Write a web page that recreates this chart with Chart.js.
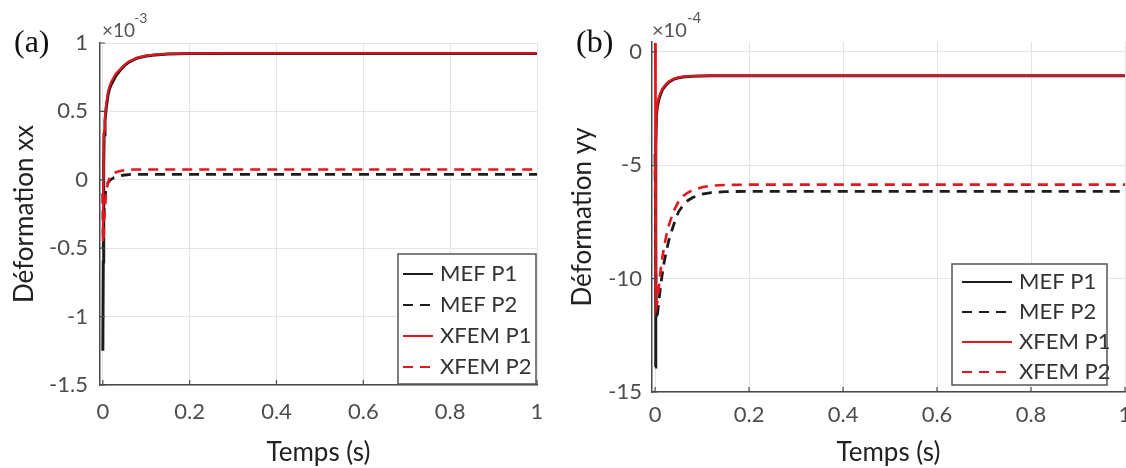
<!DOCTYPE html>
<html>
<head>
<meta charset="utf-8">
<script src="https://cdn.jsdelivr.net/npm/chart.js@4.4.1/dist/chart.umd.min.js"></script>
<style>
  body { margin: 0; background: #fff; width: 1126px; height: 468px; overflow: hidden; position: relative; }
  canvas { position: absolute; top: 0; }
  #chartA { left: 0; }
  #chartB { left: 560px; }
  .panel { position: absolute; font-family: "Liberation Serif", serif; font-size: 32px; color: #111; line-height: 1; }
  .expo { position: absolute; font-family: Lato, sans-serif; color: #555; line-height: 1; }
</style>
</head>
<body>
<canvas id="chartA" width="560" height="468"></canvas>
<canvas id="chartB" width="566" height="468"></canvas>

<div class="panel" style="left:14px; top:25px;">(a)</div>
<div class="panel" style="left:576px; top:25px;">(b)</div>
<div class="expo" style="left:102px; top:20px; font-size:19px;">×10</div>
<div class="expo" style="left:134px; top:11px; font-size:14px;">-3</div>
<div class="expo" style="left:652px; top:19px; font-size:20px;">×10</div>
<div class="expo" style="left:687px; top:10px; font-size:15px;">-4</div>

<script>
// time samples (s), dense near t = 0 where the transients are
var times = [0, 0.001, 0.002, 0.003, 0.005, 0.008, 0.012, 0.016, 0.02, 0.025, 0.03, 0.04,
  0.05, 0.06, 0.07, 0.08, 0.1, 0.12, 0.15, 0.2, 0.3, 0.5, 0.75, 1];

// (a) Déformation xx, x 1e-3
var mefP1xx = [-1.25, -0.6, 0.1, 0.33, 0.43, 0.53, 0.62, 0.67, 0.70, 0.73, 0.76, 0.80,
  0.835, 0.86, 0.877, 0.89, 0.905, 0.913, 0.92, 0.923, 0.924, 0.924, 0.924, 0.924];
var mefP2xx = [-0.1, -0.5, -0.35, -0.2, -0.12, -0.06, -0.02, -0.005, 0.005, 0.015, 0.022, 0.03,
  0.035, 0.038, 0.04, 0.04, 0.04, 0.04, 0.04, 0.04, 0.04, 0.04, 0.04, 0.04];
var xfemP1xx = [-0.45, 0.0, 0.25, 0.36, 0.46, 0.56, 0.645, 0.69, 0.72, 0.75, 0.775, 0.81,
  0.84, 0.865, 0.88, 0.893, 0.908, 0.915, 0.921, 0.924, 0.925, 0.925, 0.925, 0.925];
var xfemP2xx = [-0.1, -0.2, -0.45, -0.3, -0.2, -0.08, -0.02, 0.015, 0.03, 0.045, 0.055, 0.065,
  0.07, 0.073, 0.075, 0.075, 0.075, 0.075, 0.075, 0.075, 0.075, 0.075, 0.075, 0.075];

// (b) Déformation yy, x 1e-4
var mefP1yy = [-13.9, -8, -4, -2.8, -2.4, -2.1, -1.85, -1.65, -1.55, -1.42, -1.32, -1.2,
  -1.14, -1.1, -1.08, -1.07, -1.06, -1.05, -1.05, -1.05, -1.05, -1.05, -1.05, -1.05];
var mefP2yy = [-4.5, -8, -10.5, -11.8, -11.6, -11.0, -10.3, -9.7, -9.2, -8.7, -8.25, -7.6,
  -7.05, -6.75, -6.55, -6.42, -6.27, -6.2, -6.16, -6.15, -6.15, -6.15, -6.15, -6.15];
var xfemP1yy = [0.4, -11, -5, -2.7, -2.3, -2.0, -1.78, -1.6, -1.5, -1.38, -1.29, -1.18,
  -1.12, -1.09, -1.07, -1.06, -1.05, -1.04, -1.04, -1.04, -1.04, -1.04, -1.04, -1.04];
var xfemP2yy = [-5, -7, -9.5, -11.2, -11.0, -10.4, -9.6, -9.0, -8.5, -8.0, -7.6, -7.0,
  -6.6, -6.35, -6.2, -6.1, -5.97, -5.9, -5.87, -5.85, -5.85, -5.85, -5.85, -5.85];

var xTicks = [0, 0.2, 0.4, 0.6, 0.8, 1];
var yTicksA = [-1.5, -1, -0.5, 0, 0.5, 1];
var yTicksB = [-15, -10, -5, 0];

var BLACK = '#1c1c1c';
var RED = '#e3161f';

function points(values) {
  return values.map(function (v, i) { return { x: times[i], y: v }; });
}

// short inward tick marks on the left and bottom axes
var innerTicks = {
  id: 'innerTicks',
  afterDatasetsDraw: function (chart) {
    var ctx = chart.ctx, area = chart.chartArea;
    ctx.save();
    ctx.strokeStyle = '#4a4a4a';
    ctx.lineWidth = 1.2;
    ctx.beginPath();
    chart.scales.x.ticks.forEach(function (t) {
      var px = chart.scales.x.getPixelForValue(t.value);
      ctx.moveTo(px, area.bottom);
      ctx.lineTo(px, area.bottom - 5);
    });
    chart.scales.y.ticks.forEach(function (t) {
      var py = chart.scales.y.getPixelForValue(t.value);
      ctx.moveTo(area.left, py);
      ctx.lineTo(area.left + 5, py);
    });
    ctx.stroke();
    ctx.restore();
  }
};

// legend drawn as a framed box inside the plot, MATLAB style
var boxLegend = {
  id: 'boxLegend',
  afterDraw: function (chart, args, o) {
    var ctx = chart.ctx;
    ctx.save();
    ctx.fillStyle = '#fff';
    ctx.fillRect(o.left, o.top, o.width, o.height);
    ctx.strokeStyle = '#555';
    ctx.lineWidth = 1.5;
    ctx.strokeRect(o.left, o.top, o.width, o.height);
    ctx.font = '22px Lato';
    ctx.textBaseline = 'middle';
    chart.data.datasets.forEach(function (ds, i) {
      var y = o.firstRow + i * o.rowHeight;
      ctx.beginPath();
      ctx.setLineDash(ds.borderDash || []);
      ctx.strokeStyle = ds.borderColor;
      ctx.lineWidth = 2;
      ctx.moveTo(o.lineStart, y);
      ctx.lineTo(o.lineStart + o.lineLength, y);
      ctx.stroke();
      ctx.setLineDash([]);
      ctx.fillStyle = '#333';
      ctx.fillText(ds.label, o.lineStart + o.lineLength + 7, y);
    });
    ctx.restore();
  }
};

function makeChart(id, series, s) {
  var styles = [
    { label: 'MEF P1', color: BLACK, dash: [], width: 3, order: 1 },
    { label: 'MEF P2', color: BLACK, dash: [10, 7], width: 2.8, order: 1 },
    { label: 'XFEM P1', color: RED, dash: [], width: 2.2, order: 0 },
    { label: 'XFEM P2', color: RED, dash: [10, 7], width: 2.6, order: 0 }
  ];
  var datasets = styles.map(function (st, i) {
    return {
      label: st.label,
      data: points(series[i]),
      borderColor: st.color,
      borderDash: st.dash,
      borderWidth: st.width,
      pointRadius: 0,
      tension: 0,
      fill: false,
      order: st.order
    };
  });

  return new Chart(document.getElementById(id), {
    type: 'line',
    data: { datasets: datasets },
    options: {
      responsive: false,
      animation: false,
      events: [],
      layout: { padding: { left: 0, right: s.padRight, top: s.top, bottom: 0 } },
      plugins: {
        legend: { display: false },
        tooltip: { enabled: false },
        boxLegend: s.legend
      },
      scales: {
        x: {
          type: 'linear',
          min: -0.0065,
          max: 1,
          afterBuildTicks: function (sc) { sc.ticks = xTicks.map(function (v) { return { value: v }; }); },
          afterFit: function (sc) { sc.height = s.xHeight; sc.paddingLeft = 0; sc.paddingRight = 0; },
          grid: { color: '#e4e4e4', lineWidth: 1, drawTicks: false },
          border: { display: true, color: '#4a4a4a', width: 1.5 },
          ticks: {
            font: { family: 'Lato', size: 22 },
            color: '#4d4d4d',
            padding: s.xTickPad,
            maxRotation: 0,
            autoSkip: false,
            callback: function (v) { return String(v); }
          },
          title: { display: true, text: 'Temps (s)', font: { family: 'Lato', size: 26 }, color: '#222', padding: 0 }
        },
        y: {
          type: 'linear',
          min: s.yMin,
          max: s.yMax,
          afterBuildTicks: function (sc) { sc.ticks = s.yTicks.map(function (v) { return { value: v }; }); },
          afterFit: function (sc) { sc.width = s.yWidth; sc.paddingTop = 0; sc.paddingBottom = 0; },
          grid: { color: '#e4e4e4', lineWidth: 1, drawTicks: false },
          border: { display: true, color: '#4a4a4a', width: 1.5 },
          ticks: {
            font: { family: 'Lato', size: 22 },
            color: '#4d4d4d',
            padding: s.yTickPad,
            autoSkip: false,
            callback: function (v) { return String(v); }
          },
          title: { display: true, text: s.yTitle, font: { family: 'Lato', size: 26 }, color: '#222', padding: { top: s.yTitlePad } }
        }
      }
    },
    plugins: [innerTicks, boxLegend]
  });
}

makeChart('chartA', [mefP1xx, mefP2xx, xfemP1xx, xfemP2xx], {
  top: 43, padRight: 23, xHeight: 83, yWidth: 100,
  yMin: -1.5, yMax: 1, yTicks: yTicksA,
  xTickPad: 14, yTickPad: 12, yTitlePad: 9,
  yTitle: 'Déformation xx',
  legend: { left: 398, top: 254, width: 138, height: 130, firstRow: 274, rowHeight: 31, lineStart: 403, lineLength: 30 }
});

makeChart('chartB', [mefP1yy, mefP2yy, xfemP1yy, xfemP2yy], {
  top: 42, padRight: 1, xHeight: 76, yWidth: 92,
  yMin: -15, yMax: 0.44, yTicks: yTicksB,
  xTickPad: 10, yTickPad: 10, yTitlePad: 7,
  yTitle: 'Déformation yy',
  legend: { left: 392, top: 264, width: 155, height: 121, firstRow: 282, rowHeight: 30, lineStart: 402, lineLength: 50 }
});
</script>
</body>
</html>
